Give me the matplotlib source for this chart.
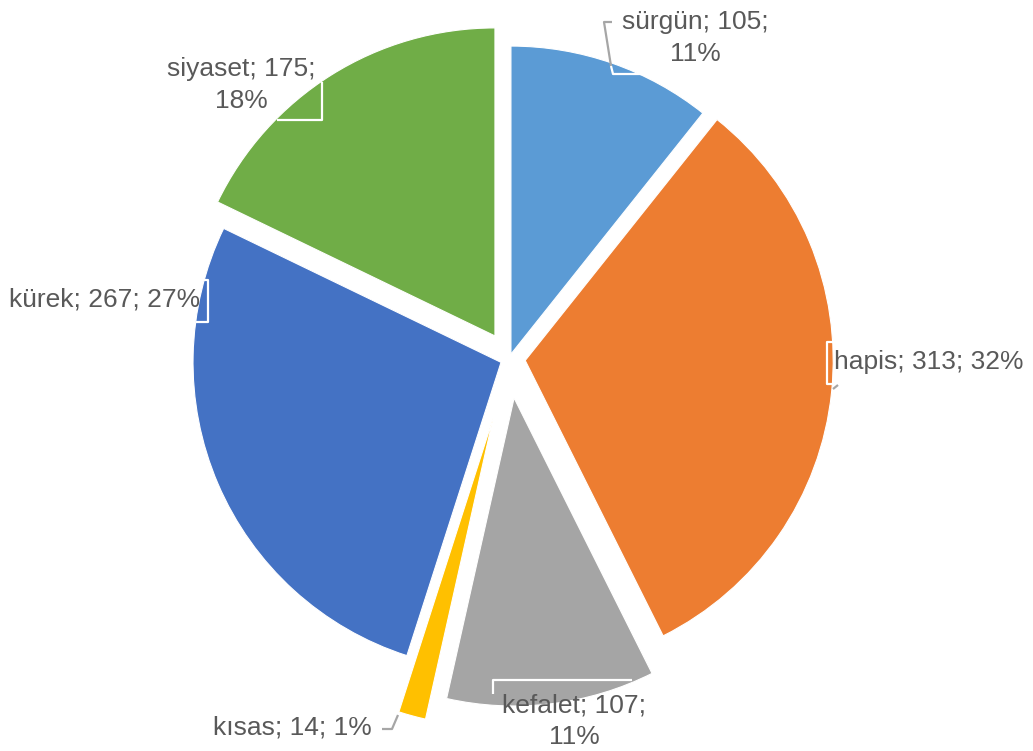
import matplotlib
matplotlib.use("Agg")
import matplotlib.pyplot as plt

# Ceza türleri ve sayıları
labels = ["sürgün", "hapis", "kefalet", "kısas", "kürek", "siyaset"]
values = [105, 313, 107, 14, 267, 175]
colors = ["#5B9BD5", "#ED7D31", "#A5A5A5", "#FFC000", "#4472C4", "#70AD47"]
# dilim ayrıklığı, piksel cinsinden
explode = [5, 16, 39.5, 62, 9, 27]

W, H = 1033, 751
CX, CY, R = 509.3, 358.8, 308

TEXT = "#595959"
FONT = ["Liberation Sans", "DejaVu Sans"]

fig = plt.figure(figsize=(W / 100, H / 100), dpi=100)
ax = fig.add_axes([0, 0, 1, 1])

ax.pie(values, colors=colors, explode=explode, startangle=90,
       counterclock=False, radius=R, center=(CX, H - CY),
       wedgeprops=dict(linewidth=0.8, edgecolor="white"))
ax.set_xlim(0, W)
ax.set_ylim(0, H)
ax.axis("off")

total = sum(values)
def lab(i, two_lines):
    pct = round(100 * values[i] / total)
    if two_lines:
        return "{}; {};\n{}%".format(labels[i], values[i], pct)
    return "{}; {}; {}%".format(labels[i], values[i], pct)

# label positions (x, y from top), alignment, line break
label_pos = {
    0: (695, 38, "center", True),
    1: (834, 362, "left", False),
    2: (574, 721, "center", True),
    3: (372, 728, "right", False),
    4: (200, 300, "right", False),
    5: (241, 85, "center", True),
}
for i, (x, y, ha, two) in label_pos.items():
    ax.text(x, H - y, lab(i, two), ha=ha, va="center", color=TEXT,
            fontsize=19, family=FONT, linespacing=1.42)

# callout lines: (points, colour)
leaders = [
    ([(612, 22), (604, 22), (611, 66)], "#A6A6A6"),
    ([(611, 66), (613, 74), (642, 74)], "white"),
    ([(322, 82), (322, 120), (277, 120)], "white"),
    ([(196, 280), (208, 280), (208, 322), (196, 322)], "white"),
    ([(833, 342), (827, 342), (827, 384), (833, 384)], "white"),
    ([(833, 389), (838, 385)], "#A6A6A6"),
    ([(493, 694), (493, 680), (632, 680)], "white"),
    ([(382, 729), (392, 729), (398, 715)], "#A6A6A6"),
]
for pts, c in leaders:
    xs = [p[0] for p in pts]
    ys = [H - p[1] for p in pts]
    ax.plot(xs, ys, color=c, linewidth=1.6, solid_capstyle="butt")

fig.savefig("out.png", dpi=100)
